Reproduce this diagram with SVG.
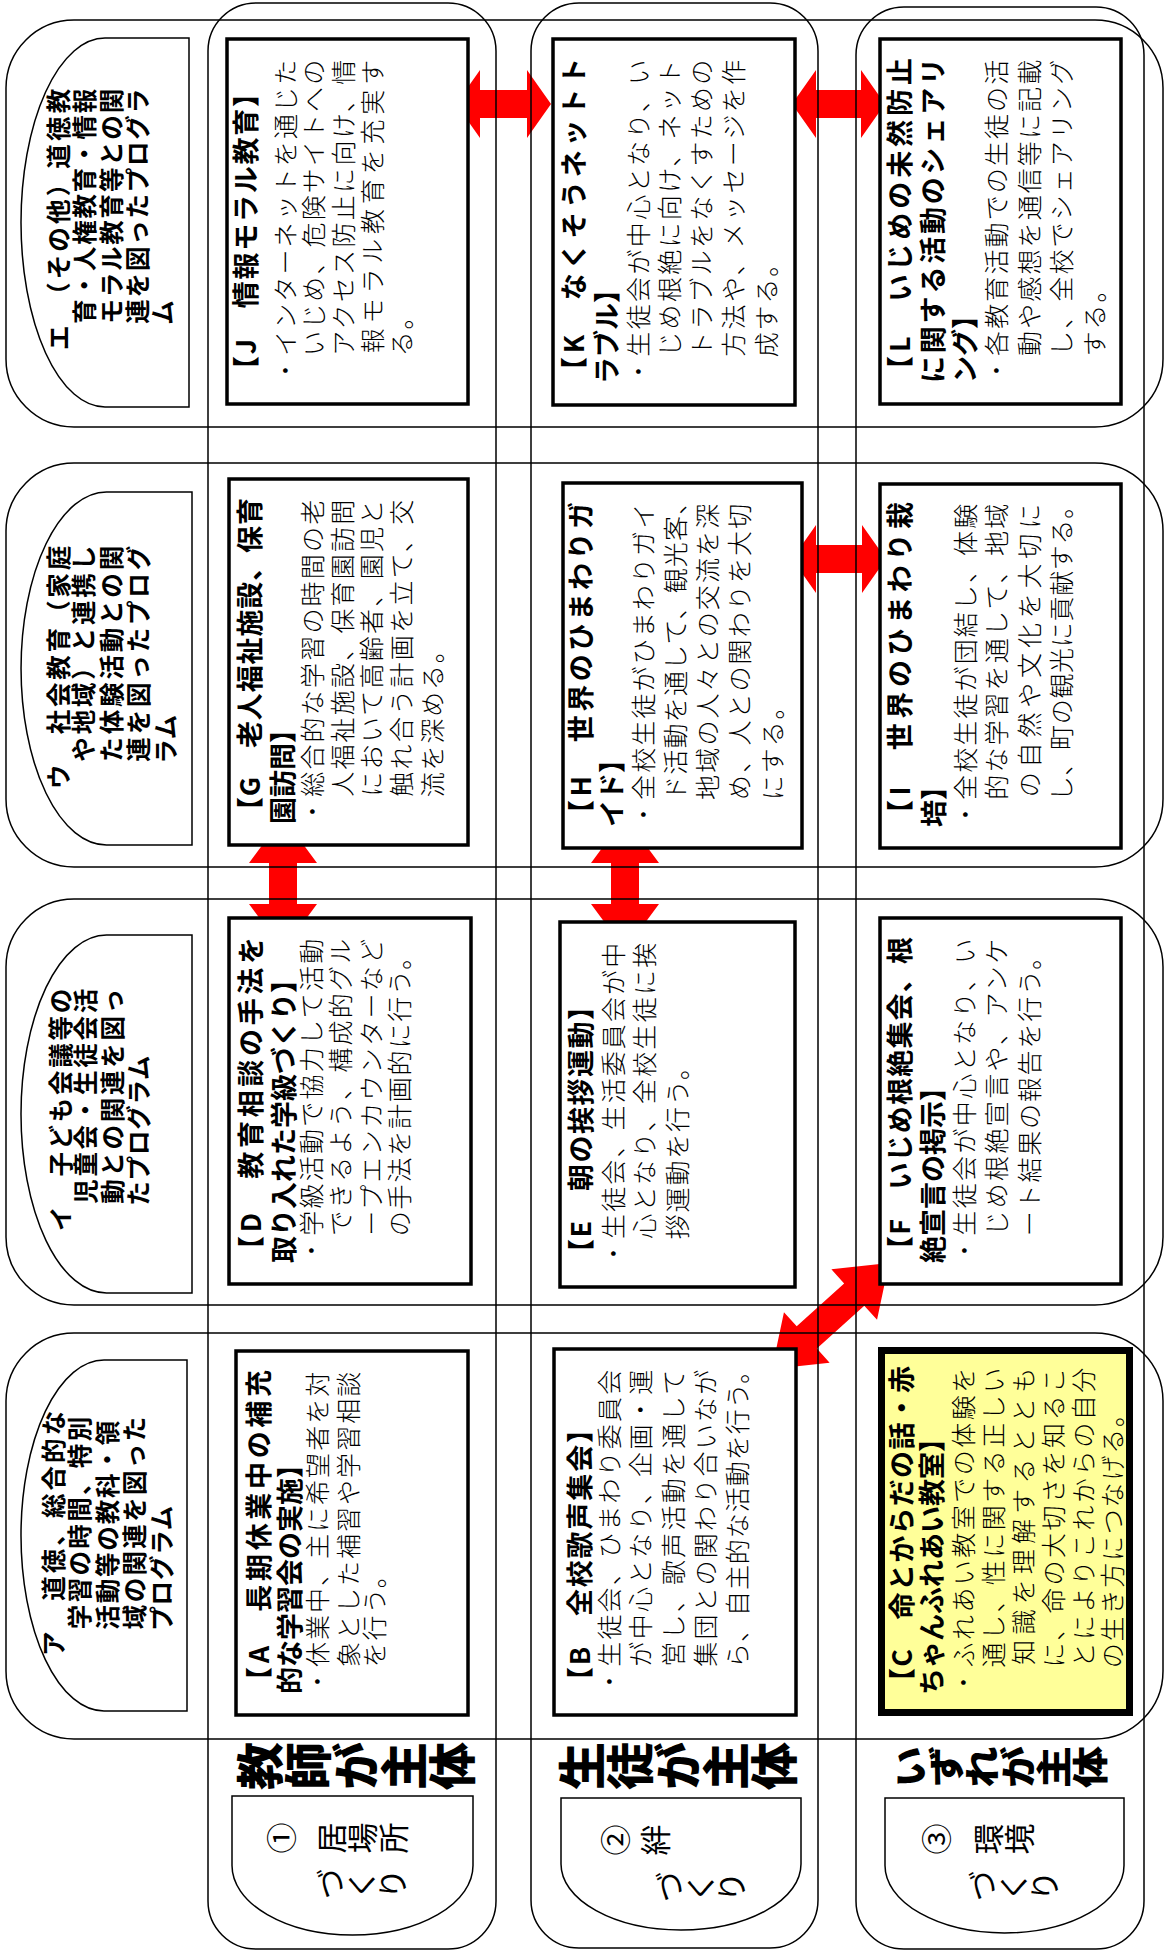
<svg xmlns="http://www.w3.org/2000/svg" width="1166" height="1953" viewBox="0 0 1166 1953">
<style>
.frame{fill:none;stroke:#000;stroke-width:1.5}
.shape{fill:#fff;stroke:#000;stroke-width:1.5}
.box{fill:#fff;stroke:#000;stroke-width:3.5}
.ybox{fill:#FFFF99;stroke:#000;stroke-width:7}
.arrow{fill:#FF0000;stroke:none}
text{font-family:"Noto Sans CJK JP","Noto Sans CJK SC",sans-serif;fill:#000}
.t{font-size:27px;font-weight:bold}
.b{font-size:25px;letter-spacing:1.8px;font-weight:300}
.h{font-size:24.5px;font-weight:bold;letter-spacing:0.8px}
.v{writing-mode:vertical-rl}
.big{font-size:48px;font-weight:900}
.lab{font-size:31px}
</style>
<g id="connectors">
<polygon class="arrow" points="456,104 480,70 480,90 527,90 527,70 551,104 527,138 527,118 480,118 480,138"/>
<polygon class="arrow" points="792,104 816,70 816,90 861,90 861,70 885,104 861,138 861,118 816,118 816,138"/>
<polygon class="arrow" points="792,559 816,525 816,545 862,545 862,525 886,559 862,593 862,573 816,573 816,593"/>
<polygon class="arrow" points="283,817 317,863 297,863 297,904 317,904 283,950 249,904 269,904 269,863 249,863"/>
<polygon class="arrow" points="625,817 659,863 639,863 639,904 659,904 625,950 591,904 611,904 611,863 591,863"/>
<polygon class="arrow" transform="translate(830.5,1316) rotate(-42.18)" points="-79,0 -32,-34 -32,-15 32,-15 32,-34 79,0 32,34 32,15 -32,15 -32,34"/>
</g>
<g id="grid">
<rect class="frame" x="6" y="20" width="1157" height="407" rx="68"/>
<rect class="frame" x="6" y="463" width="1157" height="404" rx="68"/>
<rect class="frame" x="6" y="899" width="1157" height="406" rx="68"/>
<rect class="frame" x="6" y="1333" width="1157" height="406" rx="68"/>
<rect class="frame" x="208" y="3" width="288" height="1946" rx="48"/>
<rect class="frame" x="531" y="3" width="287" height="1945" rx="48"/>
<rect class="frame" x="856" y="7" width="288" height="1942" rx="48"/>
</g>
<g id="header-e"><path class="shape" d="M189,38 V407 H105 A84,184.5 0 0 1 105,38 Z"/></g>
<g id="header-u"><path class="shape" d="M192,492 V845 H106.5 A85.5,176.5 0 0 1 106.5,492 Z"/></g>
<g id="header-i"><path class="shape" d="M192,935 V1293 H106.5 A85.5,179 0 0 1 106.5,935 Z"/></g>
<g id="header-a"><path class="shape" d="M187,1360 V1711 H104 A83,175.5 0 0 1 104,1360 Z"/></g>
<g id="label-1"><path class="shape" d="M232,1796 H473 V1865.5 A120.5,69.5 0 0 1 232,1865.5 Z"/></g>
<g id="label-2"><path class="shape" d="M561,1798 H801 V1864 A120,66 0 0 1 561,1864 Z"/></g>
<g id="label-3"><path class="shape" d="M885,1798 H1124 V1865.5 A119.5,67.5 0 0 1 885,1865.5 Z"/></g>
<g id="box-J"><rect class="box" x="227" y="39" width="241" height="365"/></g>
<g id="box-K"><rect class="box" x="553" y="39" width="242" height="366"/></g>
<g id="box-L"><rect class="box" x="880" y="39" width="241" height="365"/></g>
<g id="box-G"><rect class="box" x="229" y="479" width="239" height="366"/></g>
<g id="box-H"><rect class="box" x="563" y="483" width="239" height="365"/></g>
<g id="box-I"><rect class="box" x="880" y="484" width="241" height="364"/></g>
<g id="box-D"><rect class="box" x="229" y="918" width="242" height="366"/></g>
<g id="box-E"><rect class="box" x="560" y="922" width="235" height="365"/></g>
<g id="box-F"><rect class="box" x="880" y="918" width="241" height="366"/></g>
<g id="box-A"><rect class="box" x="236" y="1351" width="232" height="364"/></g>
<g id="box-B"><rect class="box" x="554" y="1349" width="242" height="366"/></g>
<g id="box-C"><rect class="ybox" x="881.5" y="1350.5" width="248" height="362"/></g>
<g id="texts" transform="translate(0,1953) rotate(-90)">
<!-- headers -->
<text class="h" x="1603" y="68.1" textLength="262" lengthAdjust="spacing">エ　（その他）道徳教</text>
<text class="h" x="1603" y="94.1" textLength="262" lengthAdjust="spacing">　育・人権教育・情報</text>
<text class="h" x="1603" y="120.7" textLength="262" lengthAdjust="spacing">　モラル教育等との関</text>
<text class="h" x="1603" y="146.6" textLength="262" lengthAdjust="spacing">　連を図ったプログラ</text>
<text class="h" x="1603" y="172.1">　ム</text>
<text class="h" x="1164" y="68.1" textLength="244" lengthAdjust="spacing">ウ　社会教育（家庭</text>
<text class="h" x="1164" y="93.1" textLength="244" lengthAdjust="spacing">　や地域）と連携し</text>
<text class="h" x="1164" y="120.7" textLength="244" lengthAdjust="spacing">　た体験活動との関</text>
<text class="h" x="1164" y="147.5" textLength="244" lengthAdjust="spacing">　連を図ったプログ</text>
<text class="h" x="1164" y="175.1">　ラム</text>
<text class="h" x="722" y="69.8" textLength="243" lengthAdjust="spacing">イ　子ども会議等の</text>
<text class="h" x="722" y="94.8" textLength="243" lengthAdjust="spacing">　児童会・生徒会活</text>
<text class="h" x="722" y="121.6" textLength="243" lengthAdjust="spacing">　動との関連を図っ</text>
<text class="h" x="722" y="148.4">　たプログラム</text>
<text class="h" x="297" y="62.7" textLength="246" lengthAdjust="spacing">ア　道徳、総合的な</text>
<text class="h" x="297" y="89.1" textLength="240" lengthAdjust="spacing">　学習の時間、特別</text>
<text class="h" x="297" y="117.1" textLength="236" lengthAdjust="spacing">　活動等の教科・領</text>
<text class="h" x="297" y="143.9" textLength="240" lengthAdjust="spacing">　域の関連を図った</text>
<text class="h" x="297" y="170.7">　プログラム</text>
<!-- J -->
<text class="t" x="1570" y="255.5" textLength="303" lengthAdjust="spacing">【J　情報モラル教育】</text>
<text class="b" x="1570" y="294.5" textLength="325" lengthAdjust="spacing">・インターネットを通じた</text>
<text class="b" x="1570" y="323" textLength="325" lengthAdjust="spacing">　いじめ、危険サイトへの</text>
<text class="b" x="1570" y="353" textLength="325" lengthAdjust="spacing">　アクセス防止に向け、情</text>
<text class="b" x="1570" y="382" textLength="325" lengthAdjust="spacing">　報モラル教育を充実す</text>
<text class="b" x="1570" y="411">　る。</text>
<!-- K -->
<text class="t" x="1569" y="583.5" textLength="326" lengthAdjust="spacing">【K　なくそうネットト</text>
<text class="t" x="1569" y="616.5">ラブル】</text>
<text class="b" x="1569" y="647.75" textLength="326" lengthAdjust="spacing">・生徒会が中心となり、い</text>
<text class="b" x="1569" y="679.25" textLength="326" lengthAdjust="spacing">　じめ根絶に向け、ネット</text>
<text class="b" x="1569" y="711.25" textLength="326" lengthAdjust="spacing">　トラブルをなくすための</text>
<text class="b" x="1569" y="743.25" textLength="326" lengthAdjust="spacing">　方法や、メッセージを作</text>
<text class="b" x="1569" y="775.75">　成する。</text>
<!-- L -->
<text class="t" x="1570" y="910" textLength="325" lengthAdjust="spacing">【L　いじめの未然防止</text>
<text class="t" x="1570" y="943" textLength="325" lengthAdjust="spacing">に関する活動のシェアリ</text>
<text class="t" x="1570" y="975">ング】</text>
<text class="b" x="1570" y="1005.75" textLength="325" lengthAdjust="spacing">・各教育活動での生徒の活</text>
<text class="b" x="1570" y="1038.75" textLength="325" lengthAdjust="spacing">　動や感想を通信等に記載</text>
<text class="b" x="1570" y="1071.25" textLength="325" lengthAdjust="spacing">　し、全校でシェアリング</text>
<text class="b" x="1570" y="1104.25">　する。</text>
<!-- G -->
<text class="t" x="1129" y="260" textLength="326" lengthAdjust="spacing">【G　老人福祉施設、保育</text>
<text class="t" x="1129" y="292.5">園訪問】</text>
<text class="b" x="1129" y="321.75" textLength="326" lengthAdjust="spacing">・総合的な学習の時間の老</text>
<text class="b" x="1129" y="352.25" textLength="326" lengthAdjust="spacing">　人福祉施設、保育園訪問</text>
<text class="b" x="1129" y="381.25" textLength="326" lengthAdjust="spacing">　において高齢者、園児と</text>
<text class="b" x="1129" y="411.25" textLength="326" lengthAdjust="spacing">　触れ合う計画を立て、交</text>
<text class="b" x="1129" y="442.25">　流を深める。</text>
<!-- H -->
<text class="t" x="1126" y="590.5" textLength="325" lengthAdjust="spacing">【H　世界のひまわりガ</text>
<text class="t" x="1126" y="621.5">イド】</text>
<text class="b" x="1126" y="653.25" textLength="325" lengthAdjust="spacing">・全校生徒がひまわりガイ</text>
<text class="b" x="1126" y="685.25" textLength="339" lengthAdjust="spacing">　ド活動を通して、観光客、</text>
<text class="b" x="1126" y="716.75" textLength="325" lengthAdjust="spacing">　地域の人々との交流を深</text>
<text class="b" x="1126" y="749.25" textLength="325" lengthAdjust="spacing">　め、人との関わりを大切</text>
<text class="b" x="1126" y="781.75">　にする。</text>
<!-- I -->
<text class="t" x="1126" y="910" textLength="325" lengthAdjust="spacing">【I　世界のひまわり栽</text>
<text class="t" x="1126" y="944">培】</text>
<text class="b" x="1126" y="975.25" textLength="325" lengthAdjust="spacing">・全校生徒が団結し、体験</text>
<text class="b" x="1126" y="1005.75" textLength="325" lengthAdjust="spacing">　的な学習を通して、地域</text>
<text class="b" x="1126" y="1038.75" textLength="325" lengthAdjust="spacing">　の自然や文化を大切に</text>
<text class="b" x="1126" y="1070.75" textLength="335" lengthAdjust="spacing">　し、町の観光に貢献する。</text>
<!-- D -->
<text class="t" x="690" y="261" textLength="326" lengthAdjust="spacing">【D　教育相談の手法を</text>
<text class="t" x="690" y="294">取り入れた学級づくり】</text>
<text class="b" x="690" y="320.75" textLength="326" lengthAdjust="spacing">・学級活動で協力して活動</text>
<text class="b" x="690" y="350.25" textLength="326" lengthAdjust="spacing">　できるよう、構成的グル</text>
<text class="b" x="690" y="380.75" textLength="326" lengthAdjust="spacing">　ープエンカウンターなど</text>
<text class="b" x="690" y="409.25">　の手法を計画的に行う。</text>
<!-- E -->
<text class="t" x="687" y="590.5" textLength="273" lengthAdjust="spacing">【E　朝の挨拶運動】</text>
<text class="b" x="687" y="623.25" textLength="325" lengthAdjust="spacing">・生徒会、生活委員会が中</text>
<text class="b" x="687" y="654.25" textLength="325" lengthAdjust="spacing">　心となり、全校生徒に挨</text>
<text class="b" x="687" y="687.25">　拶運動を行う。</text>
<!-- F -->
<text class="t" x="690" y="910" textLength="326" lengthAdjust="spacing">【F　いじめ根絶集会、根</text>
<text class="t" x="690" y="943">絶宣言の掲示】</text>
<text class="b" x="690" y="974.25" textLength="326" lengthAdjust="spacing">・生徒会が中心となり、い</text>
<text class="b" x="690" y="1005.75" textLength="326" lengthAdjust="spacing">　じめ根絶宣言や、アンケ</text>
<text class="b" x="690" y="1038.75">　ート結果の報告を行う。</text>
<!-- A -->
<text class="t" x="259" y="269" textLength="324" lengthAdjust="spacing">【A　長期休業中の補充</text>
<text class="t" x="259" y="299.5">的な学習会の実施】</text>
<text class="b" x="259" y="327.25" textLength="324" lengthAdjust="spacing">・休業中、主に希望者を対</text>
<text class="b" x="259" y="357.75" textLength="324" lengthAdjust="spacing">　象とした補習や学習相談</text>
<text class="b" x="259" y="384.25">　を行う。</text>
<!-- B -->
<text class="t" x="259" y="589.5" textLength="278" lengthAdjust="spacing">【B　全校歌声集会】</text>
<text class="b" x="259" y="619.25" textLength="326" lengthAdjust="spacing">・生徒会、ひまわり委員会</text>
<text class="b" x="259" y="650.25" textLength="326" lengthAdjust="spacing">　が中心となり、企画・運</text>
<text class="b" x="259" y="683.25" textLength="326" lengthAdjust="spacing">　営し、歌声活動を通して</text>
<text class="b" x="259" y="715.25" textLength="326" lengthAdjust="spacing">　集団との関わり合いなが</text>
<text class="b" x="259" y="746.75" textLength="337" lengthAdjust="spacing">　ら、自主的な活動を行う。</text>
<!-- C -->
<text class="t" x="258" y="912" textLength="329" lengthAdjust="spacing">【C　命とからだの話・赤</text>
<text class="t" x="258" y="942">ちゃんふれあい教室】</text>
<text class="b" x="258" y="973.25" textLength="329" lengthAdjust="spacing">・ふれあい教室での体験を</text>
<text class="b" x="258" y="1003.25" textLength="329" lengthAdjust="spacing">　通し、性に関する正しい</text>
<text class="b" x="258" y="1033.25" textLength="329" lengthAdjust="spacing">　知識を理解するととも</text>
<text class="b" x="258" y="1063.25" textLength="329" lengthAdjust="spacing">　に、命の大切さを知るこ</text>
<text class="b" x="258" y="1093.25" textLength="329" lengthAdjust="spacing">　とによりこれからの自分</text>
<text class="b" x="258" y="1122.25">　の生き方につなげる。</text>
<!-- row labels -->
<text class="v big" x="187" y="236">教師が主体</text>
<text class="v big" x="187" y="558">生徒が主体</text>
<text class="v big" style="font-size:42px" transform="translate(186,892) scale(1,0.857)" x="0" y="0">いずれが主体</text>
<text class="v lab" x="115" y="266">①</text>
<text class="v lab" x="115" y="316">居場所</text>
<text class="v lab" x="69" y="315">づくり</text>
<text class="v lab" x="113" y="600">②</text>
<text class="v lab" x="113" y="640">絆</text>
<text class="v lab" x="66" y="654">づくり</text>
<text class="v lab" x="114" y="921">③</text>
<text class="v lab" x="114" y="973">環境</text>
<text class="v lab" x="67" y="967">づくり</text>
</g>
</svg>
